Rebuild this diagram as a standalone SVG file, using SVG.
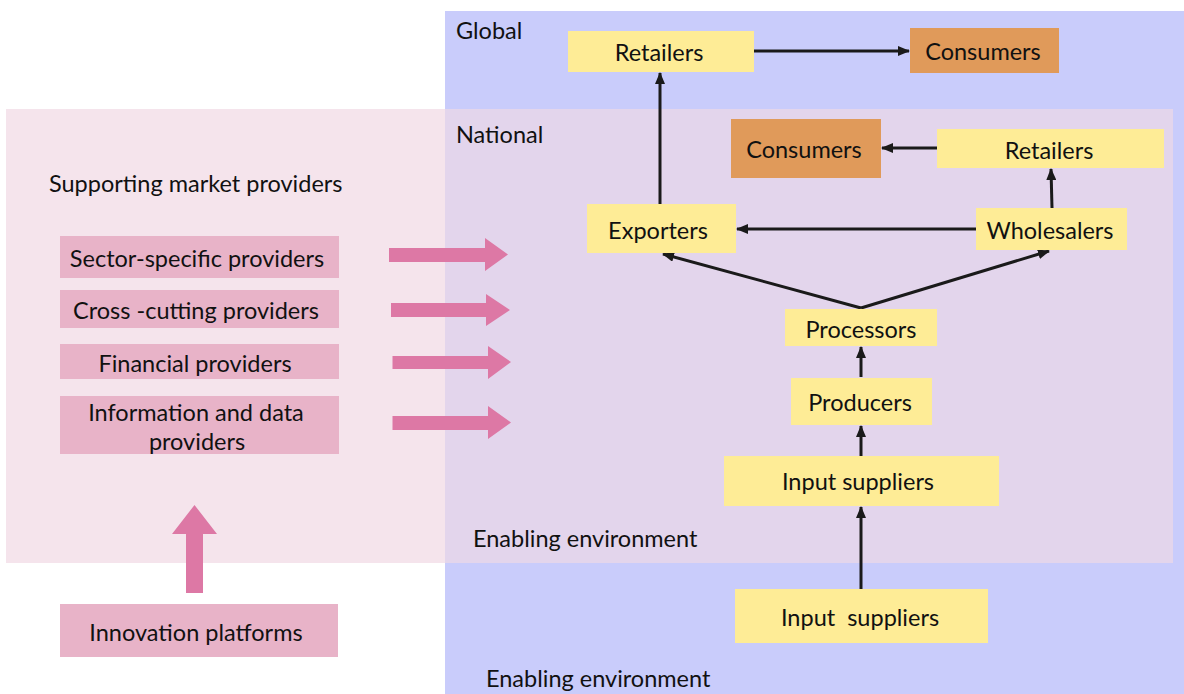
<svg xmlns="http://www.w3.org/2000/svg" width="1184" height="694" viewBox="0 0 1184 694">
<style>
text{font-family:Lato,"Liberation Sans",sans-serif;font-size:23.5px;fill:#111;}
.c{text-anchor:middle;dominant-baseline:central;}
.y{fill:#FEEC96;}
.o{fill:#E09A5A;}
.p{fill:#E8B3C8;}
.pa{fill:#DD78A5;}
.ln{stroke:#1a1a1a;stroke-width:3;fill:none;marker-end:url(#ah);}
</style>
<defs>
<marker id="ah" markerUnits="userSpaceOnUse" markerWidth="12" markerHeight="10" refX="11" refY="5" orient="auto">
<path d="M0,0 L12,5 L0,10 z" fill="#1a1a1a"/>
</marker>
</defs>
<rect id="global-bg" x="445" y="11" width="739" height="683" fill="#C9CCFB"/>
<rect id="national-bg" x="6" y="109" width="1167" height="454" fill="#F5E4EC"/>
<rect x="445" y="109" width="728" height="454" fill="#E3D5EC"/>
<text x="456" y="39">Global</text>
<text x="456" y="143">National</text>
<text x="49" y="192">Supporting market providers</text>
<text x="473" y="547">Enabling environment</text>
<text x="486" y="687">Enabling environment</text>

<g id="connectors">
<line class="ln" x1="754" y1="51" x2="909" y2="51"/>
<line class="ln" x1="660" y1="204" x2="660" y2="73"/>
<line class="ln" x1="937" y1="148" x2="882" y2="148"/>
<line class="ln" x1="1052" y1="208" x2="1051" y2="169"/>
<line class="ln" x1="976" y1="229" x2="737" y2="229"/>
<line class="ln" x1="861" y1="308" x2="663" y2="254"/>
<line class="ln" x1="861" y1="308" x2="1049" y2="251"/>
<line class="ln" x1="861" y1="377" x2="861" y2="347"/>
<line class="ln" x1="861" y1="456" x2="861" y2="426"/>
<line class="ln" x1="861" y1="589" x2="861" y2="507"/>
</g>

<g id="pink-arrows">
<polygon class="pa" points="389,248 485,248 485,238 508,254.5 485,271 485,262 389,262"/>
<polygon class="pa" points="391,303 486,303 486,294 510,310 486,326 486,317 391,317"/>
<polygon class="pa" points="392.5,356 488,356 488,346 511,362 488,379 488,369 392.5,369"/>
<polygon class="pa" points="392.5,416 488,416 488,406 511,422.5 488,439 488,430 392.5,430"/>
<polygon class="pa" points="186,593 186,534 172,534 194.5,505 217,534 203,534 203,593"/>
</g>

<g id="retailers-global"><rect class="y" x="568" y="31" width="186" height="41"/><text class="c" x="659" y="51.5">Retailers</text></g>
<g id="consumers-global"><rect class="o" x="910" y="28" width="149" height="45"/><text class="c" x="983" y="51">Consumers</text></g>
<g id="consumers-national"><rect class="o" x="731" y="119" width="150" height="59"/><text class="c" x="804" y="149">Consumers</text></g>
<g id="retailers-national"><rect class="y" x="937" y="129" width="227" height="39"/><text class="c" x="1049" y="150">Retailers</text></g>
<g id="exporters"><rect class="y" x="587" y="204" width="149" height="49"/><text class="c" x="658" y="230">Exporters</text></g>
<g id="wholesalers"><rect class="y" x="976" y="208" width="151" height="42"/><text class="c" x="1050" y="230">Wholesalers</text></g>
<g id="processors"><rect class="y" x="785" y="309" width="152" height="37"/><text class="c" x="861" y="329">Processors</text></g>
<g id="producers"><rect class="y" x="791" y="378" width="141" height="47"/><text class="c" x="860" y="402">Producers</text></g>
<g id="input-suppliers-national"><rect class="y" x="724" y="456" width="275" height="50"/><text class="c" x="858" y="481">Input suppliers</text></g>
<g id="input-suppliers-global"><rect class="y" x="735" y="589" width="253" height="54"/><text class="c" x="860" y="617" xml:space="preserve">Input  suppliers</text></g>

<g id="sector-specific"><rect class="p" x="60" y="236" width="279" height="42"/><text class="c" x="197" y="258">Sector-specific providers</text></g>
<g id="cross-cutting"><rect class="p" x="60" y="290" width="279" height="38"/><text class="c" x="196" y="310">Cross -cutting providers</text></g>
<g id="financial"><rect class="p" x="60" y="344" width="279" height="35"/><text class="c" x="195" y="363">Financial providers</text></g>
<g id="information"><rect class="p" x="60" y="396" width="279" height="58"/><text class="c" x="196" y="412">Information and data</text><text class="c" x="197" y="441">providers</text></g>
<g id="innovation"><rect class="p" x="60" y="604" width="278" height="53"/><text class="c" x="196" y="632">Innovation platforms</text></g>
</svg>
